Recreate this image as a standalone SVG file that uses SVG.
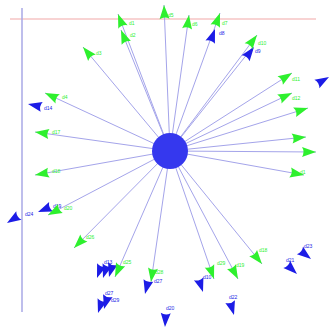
<svg xmlns="http://www.w3.org/2000/svg" xmlns:xlink="http://www.w3.org/1999/xlink" width="329" height="327" viewBox="0 0 329 327">
<defs>
<path id="ah" d="M0,0 L-14,-5 Q-11,0 -14,5 Z"/>
</defs>
<style>
.g{fill:#2ef02e}
.b{fill:#1c1ce6}
.lg{font-family:"Liberation Sans",sans-serif;font-size:5px;fill:#2ef02e}
.lb{font-family:"Liberation Sans",sans-serif;font-size:5px;fill:#1c1ce6}
.e{stroke:#a4a4ea;stroke-width:1;fill:none}
</style>
<rect width="329" height="327" fill="#fff"/>
<line x1="10" y1="19" x2="316" y2="19" stroke="#f2a8a8" stroke-width="1.2"/>
<line x1="22" y1="8" x2="22" y2="312" stroke="#a8a8e6" stroke-width="1.5"/>
<g id="edges" class="e">
<line x1="170" y1="151" x2="118" y2="14"/>
<line x1="170" y1="151" x2="121" y2="30"/>
<line x1="170" y1="151" x2="83" y2="47"/>
<line x1="170" y1="151" x2="45" y2="93"/>
<line x1="170" y1="151" x2="164" y2="5"/>
<line x1="170" y1="151" x2="189" y2="15"/>
<line x1="170" y1="151" x2="220" y2="13"/>
<line x1="170" y1="151" x2="257" y2="35"/>
<line x1="170" y1="151" x2="252" y2="48"/>
<line x1="170" y1="151" x2="292" y2="73"/>
<line x1="170" y1="151" x2="292" y2="93"/>
<line x1="170" y1="151" x2="308" y2="108"/>
<line x1="170" y1="151" x2="306" y2="137"/>
<line x1="170" y1="151" x2="316" y2="152"/>
<line x1="170" y1="151" x2="304" y2="175"/>
<line x1="170" y1="151" x2="35" y2="132"/>
<line x1="170" y1="151" x2="35" y2="175"/>
<line x1="170" y1="151" x2="48" y2="215"/>
<line x1="170" y1="151" x2="74" y2="248"/>
<line x1="170" y1="151" x2="115" y2="277"/>
<line x1="170" y1="151" x2="151" y2="282"/>
<line x1="170" y1="151" x2="214" y2="279"/>
<line x1="170" y1="151" x2="238" y2="279"/>
<line x1="170" y1="151" x2="262" y2="264"/>
</g>
<g id="hub"><circle cx="170" cy="151" r="18" fill="#3538ee"/></g>
<g id="n1"><use xlink:href="#ah" class="g" transform="translate(118,14) rotate(-110.8)"/><text class="lg" x="129" y="25">d1</text></g>
<g id="n2"><use xlink:href="#ah" class="g" transform="translate(121,30) rotate(-112.1)"/><text class="lg" x="130" y="37">d2</text></g>
<g id="n3"><use xlink:href="#ah" class="g" transform="translate(83,47) rotate(-129.9)"/><text class="lg" x="96" y="55">d3</text></g>
<g id="n4"><use xlink:href="#ah" class="g" transform="translate(45,93) rotate(-155.1)"/><text class="lg" x="62" y="99">d4</text></g>
<g id="n5"><use xlink:href="#ah" class="b" transform="translate(28,104) rotate(-168)"/><text class="lb" x="44" y="110">d14</text></g>
<g id="n6"><use xlink:href="#ah" class="g" transform="translate(164,5) rotate(-92.4)"/><text class="lg" x="168" y="17">d5</text></g>
<g id="n7"><use xlink:href="#ah" class="g" transform="translate(189,15) rotate(-82)"/><text class="lg" x="192" y="26">d6</text></g>
<g id="n8b"><use xlink:href="#ah" class="b" transform="translate(215,29) rotate(-70)"/><text class="lb" x="219" y="35">d8</text></g>
<g id="n8"><use xlink:href="#ah" class="g" transform="translate(220,13) rotate(-70.1)"/><text class="lg" x="222" y="25">d7</text></g>
<g id="n9b"><use xlink:href="#ah" class="b" transform="translate(254,47) rotate(-53)"/><text class="lb" x="255" y="53">d9</text></g>
<g id="n9"><use xlink:href="#ah" class="g" transform="translate(257,35) rotate(-53.1)"/><text class="lg" x="258" y="45">d10</text></g>
<g id="n10"><use xlink:href="#ah" class="g" transform="translate(292,73) rotate(-32.6)"/><text class="lg" x="292" y="81">d11</text></g>
<g id="n11"><use xlink:href="#ah" class="b" transform="translate(329,77) rotate(-30)"/></g>
<g id="n12"><use xlink:href="#ah" class="g" transform="translate(292,93) rotate(-25.4)"/><text class="lg" x="292" y="100">d12</text></g>
<g id="n13"><use xlink:href="#ah" class="g" transform="translate(308,108) rotate(-17.3)"/></g>
<g id="n14"><use xlink:href="#ah" class="g" transform="translate(306,137) rotate(-5.9)"/></g>
<g id="n15"><use xlink:href="#ah" class="g" transform="translate(316,152) rotate(0.4)"/></g>
<g id="n16"><use xlink:href="#ah" class="g" transform="translate(304,175) rotate(10.2)"/><text class="lg" x="300" y="174">d1</text></g>
<g id="n17"><use xlink:href="#ah" class="g" transform="translate(35,132) rotate(-172)"/><text class="lg" x="52" y="134">d17</text></g>
<g id="n18"><use xlink:href="#ah" class="g" transform="translate(35,175) rotate(170)"/><text class="lg" x="52" y="173">d18</text></g>
<g id="n19"><use xlink:href="#ah" class="b" transform="translate(38,212) rotate(158)"/><text class="lb" x="53" y="208">d19</text></g>
<g id="n20"><use xlink:href="#ah" class="g" transform="translate(48,215) rotate(152.3)"/><text class="lg" x="64" y="210">d20</text></g>
<g id="n21"><use xlink:href="#ah" class="b" transform="translate(7,223) rotate(148)"/><text class="lb" x="25" y="216">d24</text></g>
<g id="n22"><use xlink:href="#ah" class="g" transform="translate(74,248) rotate(134.7)"/><text class="lg" x="86" y="239">d26</text></g>
<g id="n23a"><use xlink:href="#ah" class="b" transform="translate(97,278) rotate(110)"/></g>
<g id="n23b"><use xlink:href="#ah" class="b" transform="translate(103,278) rotate(108)"/></g>
<g id="n23c"><use xlink:href="#ah" class="b" transform="translate(109,277) rotate(106)"/><text class="lb" x="104" y="264">d13</text></g>
<g id="n24"><use xlink:href="#ah" class="g" transform="translate(115,277) rotate(113.6)"/><text class="lg" x="123" y="264">d25</text></g>
<g id="n25b"><use xlink:href="#ah" class="b" transform="translate(145,294) rotate(104)"/><text class="lb" x="154" y="283">d27</text></g>
<g id="n25"><use xlink:href="#ah" class="g" transform="translate(151,282) rotate(98.3)"/><text class="lg" x="155" y="274">d28</text></g>
<g id="n26a"><use xlink:href="#ah" class="b" transform="translate(98,313) rotate(108)"/><text class="lb" x="105" y="295">d27</text></g>
<g id="n26b"><use xlink:href="#ah" class="b" transform="translate(104,309) rotate(106)"/><text class="lb" x="111" y="302">d29</text></g>
<g id="n28"><use xlink:href="#ah" class="g" transform="translate(214,279) rotate(71)"/><text class="lg" x="217" y="265">d29</text></g>
<g id="n29"><use xlink:href="#ah" class="g" transform="translate(238,279) rotate(62)"/><text class="lg" x="236" y="267">d19</text></g>
<g id="n30"><use xlink:href="#ah" class="g" transform="translate(262,264) rotate(50.8)"/><text class="lg" x="259" y="252">d18</text></g>
<g id="n31"><use xlink:href="#ah" class="b" transform="translate(311,259) rotate(38)"/><text class="lb" x="304" y="248">d23</text></g>
<g id="n32"><use xlink:href="#ah" class="b" transform="translate(297,274) rotate(43)"/><text class="lb" x="286" y="262">d21</text></g>
<g id="n33"><use xlink:href="#ah" class="b" transform="translate(203,292) rotate(72)"/><text class="lb" x="203" y="279">d10</text></g>
<g id="n34"><use xlink:href="#ah" class="b" transform="translate(234,315) rotate(74)"/><text class="lb" x="229" y="299">d22</text></g>
<g id="n35"><use xlink:href="#ah" class="b" transform="translate(165,327) rotate(93)"/><text class="lb" x="166" y="310">d20</text></g>
</svg>
